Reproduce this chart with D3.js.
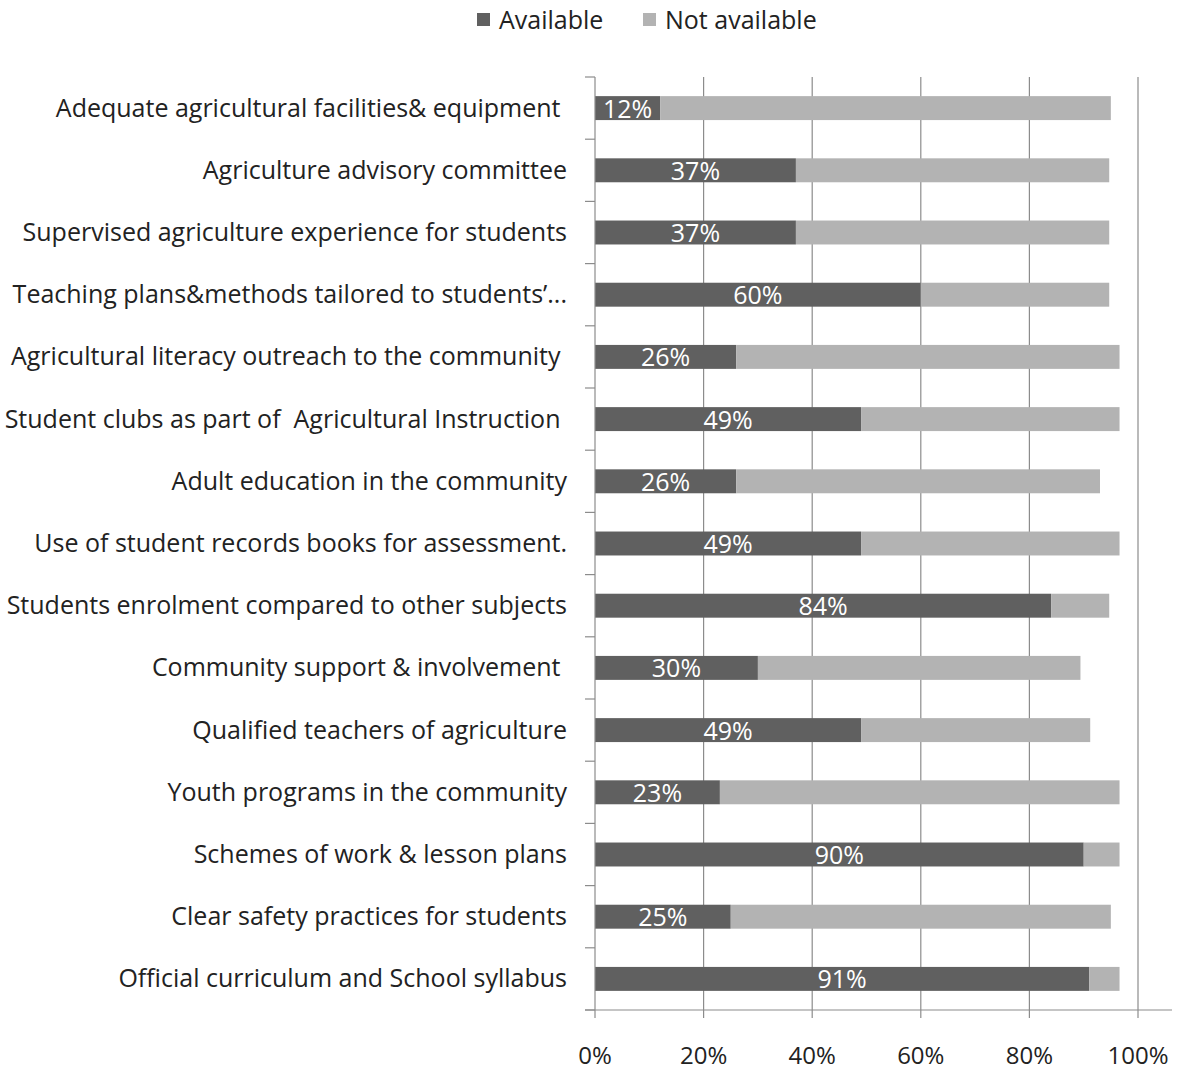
<!DOCTYPE html>
<html><head><meta charset="utf-8">
<script src="https://cdn.jsdelivr.net/npm/d3@7"></script>
<style>body{margin:0;background:#fff}svg{display:block}text{white-space:pre}</style>
</head><body>
<svg id="c" width="1179" height="1070"></svg>
<script>
const categories = [
  "Adequate agricultural facilities& equipment ",
  "Agriculture advisory committee",
  "Supervised agriculture experience for students",
  "Teaching plans&methods tailored to students’...",
  "Agricultural literacy outreach to the community ",
  "Student clubs as part of  Agricultural Instruction ",
  "Adult education in the community",
  "Use of student records books for assessment.",
  "Students enrolment compared to other subjects",
  "Community support & involvement ",
  "Qualified teachers of agriculture",
  "Youth programs in the community",
  "Schemes of work & lesson plans",
  "Clear safety practices for students",
  "Official curriculum and School syllabus"
];
const available =    [12, 37, 37, 60, 26, 49, 26, 49, 84, 30, 49, 23, 90, 25, 91];
const notAvailable = [83, 57.7, 57.7, 34.7, 70.6, 47.6, 67, 47.6, 10.7, 59.4, 42.2, 73.6, 6.6, 70, 5.6];
const xTicks = [0, 0.2, 0.4, 0.6, 0.8, 1.0];
const seriesNames = ["Available", "Not available"];
const colors = ["#606060", "#b3b3b3"];

const svg = d3.select("#c");
const font = "'Open Sans', Lato, sans-serif";
const x = d3.scaleLinear().domain([0, 1]).range([595, 1138]);
const y = d3.scaleBand().domain(categories).range([77, 1010]).paddingInner(0.615).paddingOuter(0.3075);
const step = y.step();
const bandStart = c => y(c) - step * 0.615 / 2;

// gridlines
svg.append("g").selectAll("line").data(xTicks.slice(1)).join("line")
  .attr("x1", d => x(d)).attr("x2", d => x(d)).attr("y1", 77).attr("y2", 1010)
  .attr("stroke", "#8c8c8c").attr("stroke-width", 1.2);

// bars
const rows = categories.map((c, i) => ({c, a: available[i] / 100, n: notAvailable[i] / 100, label: available[i] + "%"}));
const g = svg.append("g");
g.selectAll("rect.a").data(rows).join("rect").attr("class", "a")
  .attr("x", x(0)).attr("y", d => y(d.c)).attr("height", y.bandwidth())
  .attr("width", d => x(d.a) - x(0)).attr("fill", colors[0]);
g.selectAll("rect.n").data(rows).join("rect").attr("class", "n")
  .attr("x", d => x(d.a)).attr("y", d => y(d.c)).attr("height", y.bandwidth())
  .attr("width", d => x(d.a + d.n) - x(d.a)).attr("fill", colors[1]);
g.selectAll("text.v").data(rows).join("text").attr("class", "v")
  .attr("x", d => (x(0) + x(d.a)) / 2).attr("y", d => y(d.c) + y.bandwidth() / 2 + 9.5)
  .attr("text-anchor", "middle").attr("fill", "#fff")
  .style("font-family", font).style("font-size", "25px").text(d => d.label);

// left axis
const ax = svg.append("g").attr("stroke", "#8c8c8c").attr("stroke-width", 1.2);
ax.append("line").attr("x1", 595).attr("x2", 595).attr("y1", 77).attr("y2", 1010);
ax.selectAll("line.t").data(categories.concat([null])).join("line").attr("class", "t")
  .attr("x1", 585).attr("x2", 595)
  .attr("y1", (d, i) => d ? bandStart(d) : bandStart(categories[categories.length - 1]) + step)
  .attr("y2", (d, i) => d ? bandStart(d) : bandStart(categories[categories.length - 1]) + step);
// bottom axis
ax.append("line").attr("x1", 585).attr("x2", 1172).attr("y1", 1010).attr("y2", 1010);
ax.selectAll("line.b").data(xTicks).join("line").attr("class", "b")
  .attr("x1", d => x(d)).attr("x2", d => x(d)).attr("y1", 1010).attr("y2", 1018);

svg.append("g").selectAll("text").data(xTicks).join("text")
  .attr("x", d => x(d)).attr("y", 1064).attr("text-anchor", "middle").attr("fill", "#222")
  .style("font-family", font).style("font-size", "24px").text(d3.format(".0%"));

// category labels
svg.append("g").selectAll("text").data(categories).join("text")
  .attr("x", 567).attr("y", d => y(d) + y.bandwidth() / 2 + 8.5).attr("text-anchor", "end").attr("fill", "#222")
  .style("font-family", font).style("font-size", "25px").text(d => d);

// legend
const leg = svg.append("g");
const lx = [477, 643];
seriesNames.forEach((s, i) => {
  leg.append("rect").attr("x", lx[i]).attr("y", 13).attr("width", 13).attr("height", 13).attr("fill", colors[i]);
  leg.append("text").attr("x", lx[i] + 22).attr("y", 29).attr("fill", "#222")
    .style("font-family", font).style("font-size", "25px").text(s);
});
</script>
</body></html>
